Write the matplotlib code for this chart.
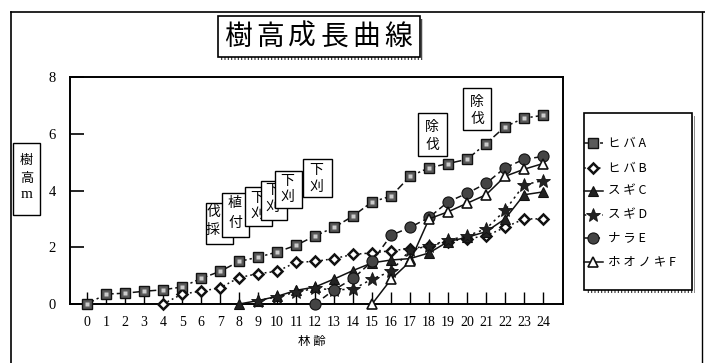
import matplotlib
matplotlib.use("Agg")
import matplotlib.pyplot as plt
from matplotlib.patches import Rectangle
from matplotlib.lines import Line2D

plt.rcParams['font.family'] = ['Noto Sans CJK JP', 'DejaVu Sans']
plt.rcParams['hatch.linewidth'] = 0.8

# ---------------- data ----------------
title_text = "樹高成長曲線"
xlabel_text = "林齢"
ylabel_chars = ["樹", "高", "m"]
x_ticks = list(range(0, 25))
y_ticks = [0, 2, 4, 6, 8]

series_names = ["ヒバA", "ヒバB", "スギC", "スギD", "ナラE", "ホオノキF"]

yrs_A = list(range(0, 25))
hiba_A = [0, 0.35, 0.38, 0.45, 0.5, 0.6, 0.9, 1.15, 1.5, 1.65, 1.83, 2.07, 2.4,
          2.7, 3.1, 3.6, 3.8, 4.5, 4.8, 4.95, 5.1, 5.65, 6.25, 6.55, 6.65]
yrs_B = list(range(4, 25))
hiba_B = [0, 0.35, 0.45, 0.57, 0.93, 1.07, 1.15, 1.47, 1.5, 1.6, 1.75, 1.8,
          1.88, 1.95, 2.05, 2.2, 2.3, 2.4, 2.7, 3.0, 3.0]
yrs_C = list(range(8, 25))
sugi_C = [0, 0.12, 0.27, 0.48, 0.6, 0.88, 1.18, 1.45, 1.55, 1.6, 1.8, 2.2,
          2.35, 2.55, 3.0, 3.85, 3.95]
yrs_D = list(range(9, 25))
sugi_D = [0.12, 0.25, 0.42, 0.55, 0.5, 0.52, 0.88, 1.15, 1.9, 2.05, 2.25, 2.4,
          2.65, 3.3, 4.2, 4.35]
yrs_E = list(range(12, 25))
nara_E = [0, 0.5, 0.9, 1.5, 2.42, 2.7, 3.05, 3.6, 3.9, 4.25, 4.8, 5.1, 5.2]
yrs_F = list(range(15, 25))
hoonoki_F = [0, 0.87, 1.5, 3.0, 3.25, 3.55, 3.85, 4.5, 4.75, 4.95]

work_labels = ["伐採", "植付", "下刈", "下刈", "下刈", "下刈", "除伐", "除伐"]

# ---------------- figure ----------------
W, H = 705, 363
fig = plt.figure(figsize=(W / 100, H / 100), dpi=100)
fig.patch.set_facecolor("white")


def fx(px):
    return px / W


def fy(py):
    return 1 - py / H


ax = fig.add_axes([fx(70), fy(304), fx(563) - fx(70), fy(77) - fy(304)])
ax.set_xlim(-0.9, 25.05)
ax.set_ylim(0, 8)
for s in ax.spines.values():
    s.set_linewidth(1.4)
    s.set_color("black")

ax.set_xticks(x_ticks)
ax.set_xticklabels([str(v) for v in x_ticks], family="Liberation Serif", fontsize=10)
ax.set_yticks(y_ticks)
ax.set_yticklabels([str(v) for v in y_ticks], family="Liberation Serif", fontsize=10.5)
ax.tick_params(axis="x", direction="in", length=9, width=1.0, pad=9)
ax.tick_params(axis="y", direction="in", length=10, width=1.2, pad=10)

styles = [
    dict(x=yrs_A, y=hiba_A, ls=(0, (5, 2, 1.5, 2)), marker="s", ms=7.5,
         mfc="#5a5a5a", mec="#111111", mew=1.0),
    dict(x=yrs_B, y=hiba_B, ls=(0, (1.2, 2)), marker="D", ms=5.5,
         mfc="white", mec="#111111", mew=1.8),
    dict(x=yrs_C, y=sugi_C, ls="-", marker="^", ms=7.5,
         mfc="#222222", mec="#111111", mew=0.8),
    dict(x=yrs_D, y=sugi_D, ls=(0, (1.5, 2.5)), marker="*", ms=10,
         mfc="#222222", mec="#111111", mew=0.6),
    dict(x=yrs_E, y=nara_E, ls=(0, (4, 2.5)), marker="o", ms=8,
         mfc="#444444", mec="#111111", mew=0.8),
    dict(x=yrs_F, y=hoonoki_F, ls="-", marker="^", ms=7.5,
         mfc="white", mec="#111111", mew=1.2),
]

for st in styles:
    ax.plot(st["x"], st["y"], color="#111111", lw=1.1, linestyle=st["ls"],
            marker=st["marker"], markersize=st["ms"], markerfacecolor=st["mfc"],
            markeredgecolor=st["mec"], markeredgewidth=st["mew"], clip_on=False, zorder=3)

# inner dots on the square markers
ax.plot(yrs_A, hiba_A, ls="none", marker="s", ms=3, mfc="#cccccc", mec="none",
        clip_on=False, zorder=4)

# ---------------- outer frame ----------------
fig.add_artist(Line2D([fx(11), fx(11)], [fy(12), fy(363)], color="black", lw=1.2))
fig.add_artist(Line2D([fx(11), fx(705)], [fy(12), fy(12)], color="black", lw=1.2))
fig.add_artist(Line2D([fx(702), fx(702)], [fy(12), fy(363)], color="black", lw=1.0))


def shadow_box(x0, y0, x1, y1, z=5, off=3):
    sh = Rectangle((fx(x0 + off), fy(y1 + off)), fx(x1) - fx(x0), fy(y0) - fy(y1),
                   transform=fig.transFigure, facecolor="white", edgecolor="#333333",
                   hatch="|||||", lw=0, zorder=z)
    fig.add_artist(sh)
    bx = Rectangle((fx(x0), fy(y1)), fx(x1) - fx(x0), fy(y0) - fy(y1),
                   transform=fig.transFigure, facecolor="white", edgecolor="black",
                   lw=1.2, zorder=z + 0.1)
    fig.add_artist(bx)


def plain_box(x0, y0, x1, y1, z=5, lw=1.0):
    bx = Rectangle((fx(x0), fy(y1)), fx(x1) - fx(x0), fy(y0) - fy(y1),
                   transform=fig.transFigure, facecolor="white", edgecolor="black",
                   lw=lw, zorder=z)
    fig.add_artist(bx)


# ---------------- title ----------------
shadow_box(218, 16, 420, 57)
for i, ch in enumerate(title_text):
    fig.text(fx(238 + i * 32), fy(37), ch, ha="center", va="center", fontsize=20,
             zorder=6)

# ---------------- y label box ----------------
plain_box(13, 143, 40, 215)
for i, ch in enumerate(ylabel_chars):
    fam = "Liberation Serif" if ch == "m" else "Noto Sans CJK JP"
    fig.text(fx(26.5), fy(161 + i * 17), ch, ha="center", va="center",
             fontsize=9.5 if ch != "m" else 11, family=fam, zorder=6)

# ---------------- x label ----------------
fig.text(fx(312), fy(341), " ".join(xlabel_text), ha="center", va="center", fontsize=9)

# ---------------- work annotation boxes ----------------
boxes = [
    (206, 203, 233, 244),
    (222, 193, 249, 237),
    (245, 187, 272, 226),
    (261, 181, 287, 220),
    (275, 171, 302, 208),
    (303, 159, 332, 197),
    (418, 113, 447, 156),
    (463, 88, 491, 130),
]
text_pos = [
    (213, 212, 230),
    (235, 203, 223),
    (257, 198, 214),
    (272, 190, 207),
    (287, 181, 197),
    (316, 170, 187),
    (432, 127, 145),
    (477, 102, 119),
]
for k, (b, t, lab) in enumerate(zip(boxes, text_pos, work_labels)):
    plain_box(*b, z=7 + k * 0.2, lw=1.0)
    fig.text(fx(t[0]), fy(t[1]), lab[0], ha="center", va="center", fontsize=10,
             zorder=7.1 + k * 0.2)
    fig.text(fx(t[0]), fy(t[2]), lab[1], ha="center", va="center", fontsize=10,
             zorder=7.1 + k * 0.2)

# ---------------- legend ----------------
shadow_box(584, 113, 692, 290)
rows = [143, 168, 191, 215, 238, 262]
for st, name, ry in zip(styles, series_names, rows):
    fig.add_artist(Line2D([fx(584), fx(603)], [fy(ry), fy(ry)], color="#111111", lw=1.1,
                          linestyle=st["ls"], zorder=6))
    fig.add_artist(Line2D([fx(593)], [fy(ry)], ls="none", marker=st["marker"],
                          markersize=st["ms"], markerfacecolor=st["mfc"],
                          markeredgecolor=st["mec"], markeredgewidth=st["mew"], zorder=6.2))
    fig.text(fx(608), fy(ry), " ".join(name), ha="left", va="center", fontsize=9,
             zorder=6.3)

fig.savefig("out.png", dpi=100, facecolor="white")
